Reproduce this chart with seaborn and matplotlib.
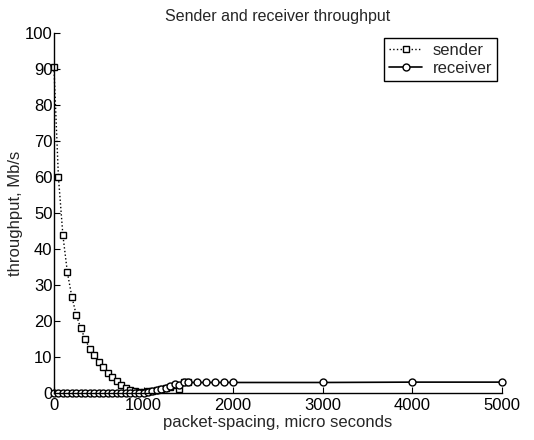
import seaborn as sns
import matplotlib.pyplot as plt

sender_x = [0, 50, 100, 150, 200, 250, 300, 350, 400, 450, 500, 550, 600, 650, 700,
            750, 800, 850, 900, 950, 1000, 1050, 1100, 1150, 1200, 1250, 1300, 1350,
            1400, 1450, 1500]
sender_y = [90.5, 60.0, 43.8, 33.5, 26.7, 21.6, 17.9, 14.9, 12.2, 10.4, 8.7, 7.1, 5.6,
            4.3, 3.2, 2.2, 1.5, 0.9, 0.5, 0.3, 0.3, 0.4, 0.6, 0.8, 1.0, 1.3, 1.6, 2.1,
            1.2, 2.9, 2.9]

receiver_x = [0, 50, 100, 150, 200, 250, 300, 350, 400, 450, 500, 550, 600, 650, 700,
              750, 800, 850, 900, 950, 1000, 1050, 1100, 1150, 1200, 1250, 1300, 1350,
              1400, 1450, 1500, 1600, 1700, 1800, 1900, 2000, 3000, 4000, 5000]
receiver_y = [0, 0, 0, 0, 0, 0, 0, 0, 0, 0, 0, 0, 0, 0, 0, 0, 0, 0, 0, 0,
              0.1, 0.3, 0.6, 0.9, 1.2, 1.5, 1.9, 2.4, 2.3, 2.9, 2.9, 2.9, 2.9, 2.9,
              2.9, 2.9, 2.9, 3.0, 3.0]

sns.set_style("ticks")
plt.rcParams['font.family'] = ['Liberation Sans', 'DejaVu Sans']

fig = plt.figure(figsize=(5.34, 4.4), dpi=100)
ax = fig.add_axes([0.101, 0.107, 0.839, 0.818])

sns.lineplot(x=sender_x, y=sender_y, ax=ax, color='black', linestyle=':', lw=1,
             marker='s', markersize=5, markerfacecolor='white', markeredgecolor='black',
             markeredgewidth=1, label='sender', clip_on=False)
sns.lineplot(x=receiver_x, y=receiver_y, ax=ax, color='black', linestyle='-', lw=1.2,
             marker='o', markersize=5, markerfacecolor='white', markeredgecolor='black',
             markeredgewidth=1, label='receiver', clip_on=False)

ax.set_xlim(0, 5000)
ax.set_ylim(0, 100)
ax.set_xticks(range(0, 5001, 1000))
ax.set_yticks(range(0, 101, 10))
ax.tick_params(direction='in', length=4, labelsize=12, colors='black')
ax.tick_params(axis='x', pad=4)
ax.tick_params(axis='y', pad=1)
sns.despine(ax=ax)
for s in ['left', 'bottom']:
    ax.spines[s].set_color('black')
    ax.spines[s].set_linewidth(1)

ax.set_title('Sender and receiver throughput', fontsize=11.5, pad=9)
ax.set_xlabel('packet-spacing, micro seconds', fontsize=12, labelpad=1)
ax.set_ylabel('throughput, Mb/s', fontsize=12, labelpad=1)

leg = ax.legend(loc='upper right', fontsize=12, frameon=True, fancybox=False,
                edgecolor='black', framealpha=1, handlelength=2.0, borderaxespad=0.3,
                borderpad=0.3, labelspacing=0.2, handletextpad=0.6)
leg.get_frame().set_linewidth(1)

fig.savefig('out.png', dpi=100)
